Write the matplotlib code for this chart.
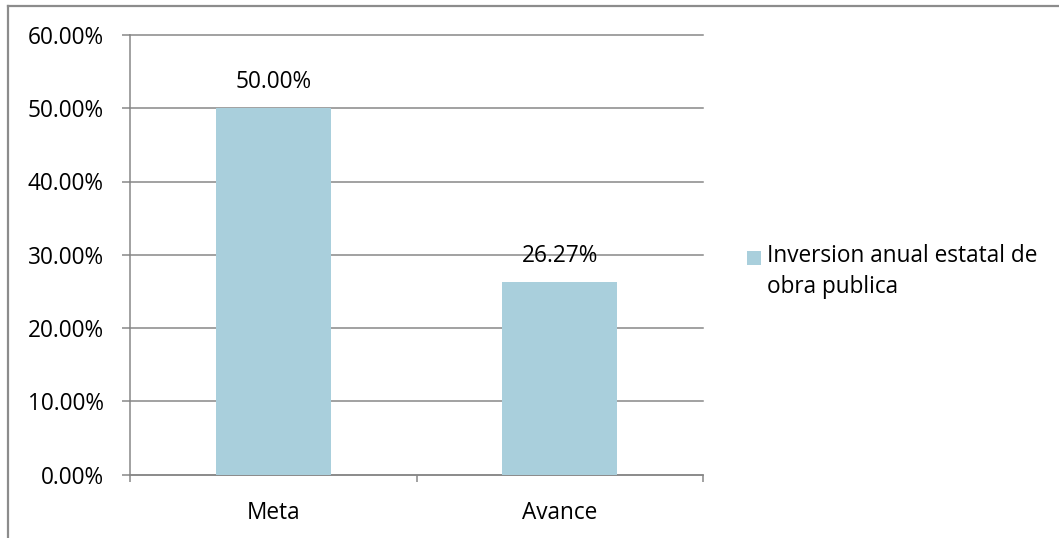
import matplotlib
matplotlib.use('Agg')
import matplotlib.pyplot as plt
from matplotlib.patches import Rectangle
from matplotlib.lines import Line2D
from matplotlib.ticker import FuncFormatter, FixedLocator

# Data
categories = ['Meta', 'Avance']
values = [50.00, 26.27]
series_name = 'Inversion anual estatal de\nobra publica'
y_ticks = [0, 10, 20, 30, 40, 50, 60]

bar_color = '#A9CFDC'
grid_color = '#878787'
text_color = '#000000'
font = 'Open Sans'
fs = 16.3

W, H = 1059, 538
fig = plt.figure(figsize=(W / 100, H / 100), dpi=100)
fig.patch.set_facecolor('white')

# plot area
ax = fig.add_axes([130 / W, 1 - 474.5 / H, (703 - 130) / W, (474.5 - 35) / H])
x = list(range(len(categories)))
ax.bar(x, values, width=0.4, color=bar_color, zorder=3)

ax.set_xlim(-0.5, len(categories) - 0.5)
ax.set_ylim(0, 60)
ax.set_yticks(y_ticks)
ax.yaxis.set_major_formatter(FuncFormatter(lambda v, p: f'{v:.2f}%'))
ax.grid(axis='y', color=grid_color, linewidth=1.1, zorder=0)
for gl in ax.get_ygridlines():
    gl.set_clip_on(False)

for s in ['top', 'right']:
    ax.spines[s].set_visible(False)
for s in ['left', 'bottom']:
    ax.spines[s].set_color(grid_color)
    ax.spines[s].set_linewidth(1.1)

ax.set_xticks(x)
ax.set_xticklabels(categories)
ax.xaxis.set_minor_locator(FixedLocator([-0.5, 0.5, 1.5]))
ax.tick_params(axis='x', which='major', length=0, pad=19, labelsize=fs,
               labelcolor=text_color)
ax.tick_params(axis='x', which='minor', length=5, width=1.1, color=grid_color,
               direction='out')
ax.tick_params(axis='y', length=6, width=1.1, color=grid_color, pad=13,
               labelsize=fs, labelcolor=text_color)
for lab in ax.get_xticklabels() + ax.get_yticklabels():
    lab.set_fontfamily(font)

# value labels
for xi, v in zip(x, values):
    ax.annotate(f'{v:.2f}%', xy=(xi, v), xytext=(0, 19), textcoords='offset points',
                ha='center', va='center', fontsize=fs, color=text_color,
                fontfamily=font, zorder=5)

# legend (manual, square aligned to the first line like the original)
fig.patches.append(Rectangle((747 / W, 1 - 265 / H), 14 / W, 14 / H,
                             transform=fig.transFigure, facecolor=bar_color,
                             edgecolor='none'))
fig.text(767 / W, 1 - 244 / H, series_name, ha='left', va='top',
         fontsize=fs, color=text_color, fontfamily=font, linespacing=1.4)

# outer chart border (top and left visible)
fig.add_artist(Line2D([8 / W, 1], [1 - 6 / H, 1 - 6 / H], color='#8C8C8C',
                      linewidth=1.6, transform=fig.transFigure))
fig.add_artist(Line2D([8 / W, 8 / W], [1 - 6 / H, 0], color='#8C8C8C',
                      linewidth=1.6, transform=fig.transFigure))

fig.savefig('out.png', dpi=100, facecolor='white')
